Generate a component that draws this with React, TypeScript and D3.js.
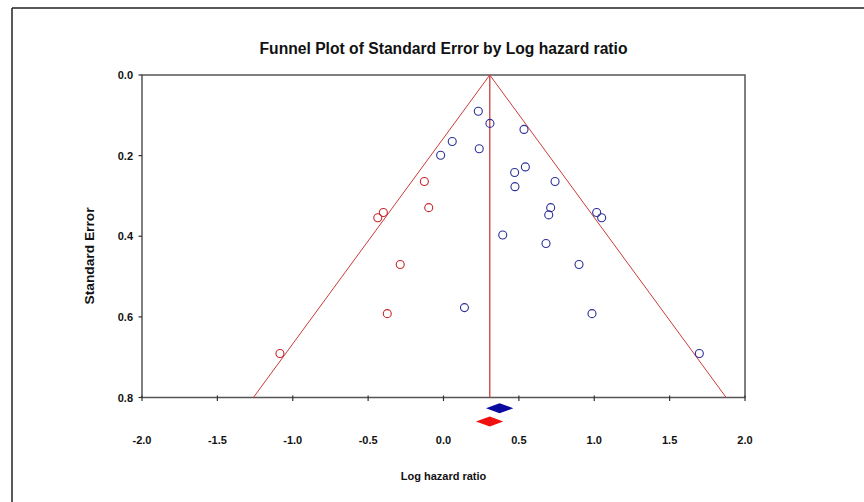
import React from "react";
import * as d3 from "d3";

// Observed studies (log hazard ratio, standard error)
const observedLogHR = [0.231, 0.308, 0.534, 0.058, -0.019, 0.237, 0.543, 0.472, 0.474, 0.740, 0.711, 0.698, 1.016, 1.049, 0.393, 0.680, 0.899, 0.139, 0.985, 1.697];
const observedSE = [0.090, 0.120, 0.135, 0.165, 0.199, 0.183, 0.228, 0.242, 0.277, 0.264, 0.329, 0.347, 0.341, 0.354, 0.397, 0.418, 0.470, 0.577, 0.592, 0.691];
// Imputed studies (trim and fill)
const imputedLogHR = [-0.127, -0.098, -0.399, -0.436, -0.287, -0.373, -1.085];
const imputedSE = [0.264, 0.329, 0.341, 0.354, 0.470, 0.592, 0.691];
// Combined estimates [lower, point, upper]
const observedEstimate = [0.282, 0.372, 0.463];
const adjustedEstimate = [0.215, 0.307, 0.396];

const xTicks = [-2.0, -1.5, -1.0, -0.5, 0.0, 0.5, 1.0, 1.5, 2.0];
const yTicks = [0.0, 0.2, 0.4, 0.6, 0.8];

const TITLE = "Funnel Plot of Standard Error by Log hazard ratio";
const X_LABEL = "Log hazard ratio";
const Y_LABEL = "Standard Error";

export default function App() {
  const left = 142, right = 745, top = 75, bottom = 397.5;
  const x = d3.scaleLinear().domain([-2, 2]).range([left, right]);
  const y = d3.scaleLinear().domain([0, 0.8]).range([top, bottom]);
  const center = adjustedEstimate[1];
  const seMax = 0.8;
  const funnel = d3.line<[number, number]>().x((d) => x(d[0])).y((d) => y(d[1]));
  const funnelPts: [number, number][] = [
    [center - 1.96 * seMax, seMax],
    [center, 0],
    [center + 1.96 * seMax, seMax],
  ];
  const font = "'Liberation Sans', Arial, sans-serif";
  const diamond = (est: number[], cy: number, h: number) =>
    `M${x(est[0])},${cy} L${x(est[1])},${cy - h} L${x(est[2])},${cy} L${x(est[1])},${cy + h} Z`;

  return (
    <svg width={864} height={502} style={{ position: "absolute", left: 0, top: 0, background: "#fff" }} fontFamily={font}>
      <rect x={0} y={0} width={864} height={502} fill="#fff" />
      {/* outer frame */}
      <line x1={12} y1={8} x2={864} y2={8} stroke="#222" strokeWidth={1.5} />
      <line x1={12} y1={8} x2={12} y2={502} stroke="#222" strokeWidth={1.5} />

      <text x={443.5} y={54} textAnchor="middle" fontSize={16} fontWeight="bold" fill="#111" textLength={368} lengthAdjust="spacingAndGlyphs">
        {TITLE}
      </text>

      {/* plot box */}
      <rect x={left} y={top} width={right - left} height={bottom - top} fill="none" stroke="#555" strokeWidth={1.5} />

      {/* ticks */}
      {xTicks.map((t) => (
        <g key={"x" + t}>
          <line x1={x(t)} x2={x(t)} y1={bottom - 2} y2={bottom + 3.5} stroke="#333" strokeWidth={1.2} />
          <text x={x(t)} y={444} textAnchor="middle" fontSize={11} fontWeight="bold" fill="#111">
            {t.toFixed(1)}
          </text>
        </g>
      ))}
      {yTicks.map((t) => (
        <g key={"y" + t}>
          <line x1={left - 3.5} x2={left} y1={y(t)} y2={y(t)} stroke="#333" strokeWidth={1.2} />
          <text x={133} y={y(t) + 4} textAnchor="end" fontSize={11} fontWeight="bold" fill="#111">
            {t.toFixed(1)}
          </text>
        </g>
      ))}

      {/* funnel */}
      <path d={funnel(funnelPts) || ""} fill="none" stroke="#cc3b3b" strokeWidth={1} />
      <line x1={x(center)} x2={x(center)} y1={y(0)} y2={y(seMax)} stroke="#cc3b3b" strokeWidth={1.3} />

      {/* points */}
      {observedLogHR.map((v, i) => (
        <circle key={"o" + i} cx={x(v)} cy={y(observedSE[i])} r={4} fill="none" stroke="#2b2f96" strokeWidth={1.1} />
      ))}
      {imputedLogHR.map((v, i) => (
        <circle key={"i" + i} cx={x(v)} cy={y(imputedSE[i])} r={4} fill="none" stroke="#c4282c" strokeWidth={1.1} />
      ))}

      {/* diamonds */}
      <path d={diamond(observedEstimate, 408.3, 5)} fill="#0a0a9e" />
      <path d={diamond(adjustedEstimate, 421.5, 5)} fill="#f01010" />

      <text x={443.5} y={480} textAnchor="middle" fontSize={11} fontWeight="bold" fill="#111">
        {X_LABEL}
      </text>
      <text transform="translate(94,256) rotate(-90)" textAnchor="middle" fontSize={12} fontWeight="bold" fill="#111" textLength={97} lengthAdjust="spacingAndGlyphs">
        {Y_LABEL}
      </text>
    </svg>
  );
}
